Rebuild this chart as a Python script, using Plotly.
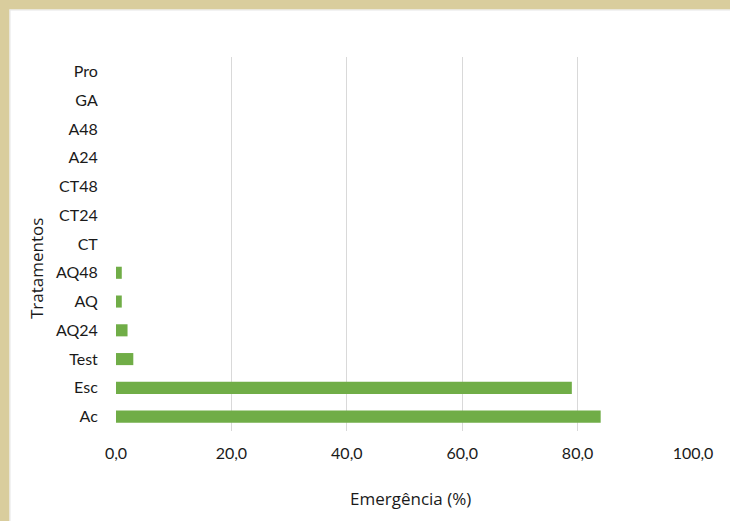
import plotly.graph_objects as go

categories = ["Ac", "Esc", "Test", "AQ24", "AQ", "AQ48", "CT", "CT24", "CT48", "A24", "A48", "GA", "Pro"]
values = [84.0, 79.0, 3.0, 2.0, 1.0, 1.0, 0, 0, 0, 0, 0, 0, 0]

W, H = 730, 521
L, R, T, B = 116, 37, 57, 90
pw, ph = W - L - R, H - T - B

def px_x(p):
    return (p - L) / pw

def px_y(p):
    return 1 - (p - T) / ph

fig = go.Figure(go.Bar(
    x=values, y=categories, orientation="h",
    marker=dict(color="#70AD47", line=dict(width=0)),
    width=0.42,
))

tick_font = dict(family="Lato, 'Open Sans', sans-serif", size=16, color="#1a1a1a")
title_font = dict(family="'Open Sans', Lato, sans-serif", size=17, color="#1a1a1a")

fig.update_layout(
    width=W, height=H,
    margin=dict(l=L, r=R, t=T, b=B),
    paper_bgcolor="white", plot_bgcolor="white",
    separators=",.",
    font=tick_font,
    showlegend=False,
    xaxis=dict(
        range=[0, 100], dtick=20, tickformat=".1f",
        showgrid=True, gridcolor="#D9D9D9", gridwidth=1,
        zeroline=False, showline=False,
        ticks="outside", ticklen=8, tickcolor="rgba(0,0,0,0)",
        tickfont=tick_font,
    ),
    yaxis=dict(
        categoryorder="array", categoryarray=categories,
        showgrid=False, zeroline=False, showline=False,
        ticks="outside", ticklen=14, tickcolor="rgba(0,0,0,0)",
        tickfont=tick_font,
    ),
    annotations=[
        dict(text="Emergência (%)", xref="paper", yref="paper",
             x=px_x(410), y=px_y(498), xanchor="center", yanchor="middle",
             showarrow=False, font=title_font),
        dict(text="Tratamentos", xref="paper", yref="paper",
             x=px_x(36), y=px_y(269), xanchor="center", yanchor="middle",
             textangle=-90, showarrow=False, font=title_font),
    ],
    shapes=[
        dict(type="rect", xref="paper", yref="paper",
             x0=px_x(0), x1=px_x(W), y0=px_y(0), y1=px_y(9.5),
             fillcolor="#D9CD9D", line=dict(width=0), layer="above"),
        dict(type="rect", xref="paper", yref="paper",
             x0=px_x(0), x1=px_x(9.5), y0=px_y(0), y1=px_y(H),
             fillcolor="#D9CD9D", line=dict(width=0), layer="above"),
        dict(type="rect", xref="paper", yref="paper",
             x0=px_x(9.5), x1=px_x(W), y0=px_y(9.5), y1=px_y(10.5),
             fillcolor="#E6E6E6", line=dict(width=0), layer="above"),
        dict(type="rect", xref="paper", yref="paper",
             x0=px_x(9.5), x1=px_x(10.5), y0=px_y(9.5), y1=px_y(H),
             fillcolor="#E6E6E6", line=dict(width=0), layer="above"),
    ],
)

fig.write_html("out.html")
